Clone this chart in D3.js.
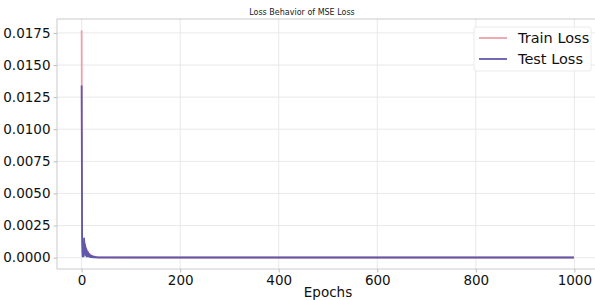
<!DOCTYPE html>
<html>
<head>
<meta charset="utf-8">
<script src="https://cdn.jsdelivr.net/npm/d3@7.9.0/dist/d3.min.js"></script>
<style>
  body { margin: 0; background: #fff; }
  svg { display: block; font-family: "DejaVu Sans", sans-serif; }
</style>
</head>
<body>
<svg id="chart" width="595" height="300"></svg>
<script>
// early epochs
const earlyEpochs = d3.range(0, 41);
const trainEarly = [0.0177, 0.0019, 0.0003, 0.0007, 0.0002, 0.0014, 0.0005, 0.0011, 0.0003, 0.0008,
  0.0002, 0.0006, 0.0002, 0.00045, 0.00012, 0.00034, 0.0001, 0.00025, 0.00008, 0.0002,
  0.00006, 0.00015, 0.00005, 0.00011, 0.00004, 0.00009, 0.00003, 0.00007, 0.00003, 0.00005,
  0.00002, 0.00004, 0.00002, 0.00003, 0.00002, 0.00003, 0.00002, 0.00002, 0.00002, 0.00002, 0.00002];
const testEarly = [0.0134, 0.0012, 0.0001, 0.0006, 0.0001, 0.0015, 0.0003, 0.0010, 0.0002, 0.0007,
  0.0001, 0.0005, 0.0001, 0.0004, 0.0001, 0.0003, 0.00006, 0.0002, 0.00005, 0.00016,
  0.00004, 0.00012, 0.00003, 0.00009, 0.00003, 0.00007, 0.00002, 0.00005, 0.00002, 0.00004,
  0.00002, 0.00003, 0.00001, 0.00002, 0.00001, 0.00002, 0.00001, 0.00002, 0.00001, 0.00001, 0.00001];
// flat tail after that
const tailEpochs = [50, 100, 150, 200, 250, 300, 350, 400, 450, 500, 550, 600, 650, 700, 750, 800, 850, 900, 950, 999];
const trainTail = [0.00002, 0.00001, 0.00001, 0.00001, 0.00001, 0.00001, 0.00001, 0.00001, 0.00001, 0.00001,
  0.00001, 0.00001, 0.00001, 0.00001, 0.00001, 0.00001, 0.00001, 0.00001, 0.00001, 0.00001];
const testTail = [0.00001, 0.00001, 0.00001, 0.00001, 0.00001, 0.00001, 0.00001, 0.00001, 0.00001, 0.00001,
  0.00001, 0.00001, 0.00001, 0.00001, 0.00001, 0.00001, 0.00001, 0.00001, 0.00001, 0.00001];

const xTicks = [0, 200, 400, 600, 800, 1000];
const yTicks = [0, 0.0025, 0.005, 0.0075, 0.01, 0.0125, 0.015, 0.0175];

const series = [
  { name: 'Train Loss', color: '#eca2aa', values: earlyEpochs.map((e, i) => [e, trainEarly[i]]).concat(tailEpochs.map((e, i) => [e, trainTail[i]])) },
  { name: 'Test Loss', color: '#6058ab', values: earlyEpochs.map((e, i) => [e, testEarly[i]]).concat(tailEpochs.map((e, i) => [e, testTail[i]])) },
];

const svg = d3.select('#chart');
const margin = { left: 57, top: 19, right: -4, bottom: 31 };
const W = 595, H = 300;

const x = d3.scaleLinear().domain([-50, 1050]).range([margin.left, W - margin.right]);
const y = d3.scaleLinear().domain([-0.000885, 0.018585]).range([H - margin.bottom, margin.top]);

// grid
svg.append('g').selectAll('line').data(xTicks).join('line')
  .attr('x1', d => x(d)).attr('x2', d => x(d))
  .attr('y1', margin.top).attr('y2', H - margin.bottom)
  .attr('stroke', '#e3e3e3').attr('stroke-width', 0.8);
svg.append('g').selectAll('line').data(yTicks).join('line')
  .attr('x1', margin.left).attr('x2', W)
  .attr('y1', d => y(d)).attr('y2', d => y(d))
  .attr('stroke', '#e3e3e3').attr('stroke-width', 0.8);

// frame
svg.append('rect')
  .attr('x', margin.left).attr('y', margin.top)
  .attr('width', W - margin.right - margin.left).attr('height', H - margin.bottom - margin.top)
  .attr('fill', 'none').attr('stroke', '#bdbdbd').attr('stroke-width', 0.8);

// axes
const xAxis = svg.append('g')
  .attr('transform', `translate(0,${H - margin.bottom})`)
  .call(d3.axisBottom(x).tickValues(xTicks).tickSize(3.5).tickPadding(3).tickFormat(d3.format('d')));
const yAxis = svg.append('g')
  .attr('transform', `translate(${margin.left},0)`)
  .call(d3.axisLeft(y).tickValues(yTicks).tickSize(3.5).tickPadding(3).tickFormat(d3.format('.4f')));
[xAxis, yAxis].forEach(a => {
  a.select('.domain').remove();
  a.selectAll('line').attr('stroke', '#bdbdbd');
  a.selectAll('text').attr('font-size', 13.5).attr('fill', '#111').attr('font-family', '"DejaVu Sans", sans-serif');
});

// lines
const line = d3.line().x(d => x(d[0])).y(d => y(d[1]));
svg.append('g').selectAll('path').data(series).join('path')
  .attr('d', d => line(d.values))
  .attr('fill', 'none')
  .attr('stroke', d => d.color)
  .attr('stroke-width', 1.8)
  .attr('stroke-linejoin', 'round');

// title + label
svg.append('text').attr('x', 302).attr('y', 15).attr('text-anchor', 'middle')
  .attr('font-size', 8).attr('fill', '#222').text('Loss Behavior of MSE Loss');
svg.append('text').attr('x', x(500)).attr('y', 297).attr('text-anchor', 'middle')
  .attr('font-size', 13.5).attr('fill', '#111').text('Epochs');

// legend
const lg = svg.append('g').attr('transform', 'translate(474,27)');
lg.append('rect').attr('width', 117).attr('height', 44).attr('rx', 2)
  .attr('fill', 'rgba(255,255,255,0.85)').attr('stroke', '#e6e6e6').attr('stroke-width', 0.8);
series.forEach((s, i) => {
  const yy = 11 + i * 21;
  lg.append('line').attr('x1', 5).attr('x2', 33).attr('y1', yy).attr('y2', yy)
    .attr('stroke', s.color).attr('stroke-width', 1.8);
  lg.append('text').attr('x', 44).attr('y', yy + 5).attr('font-size', 14.5).attr('fill', '#111').text(s.name);
});
</script>
</body>
</html>
